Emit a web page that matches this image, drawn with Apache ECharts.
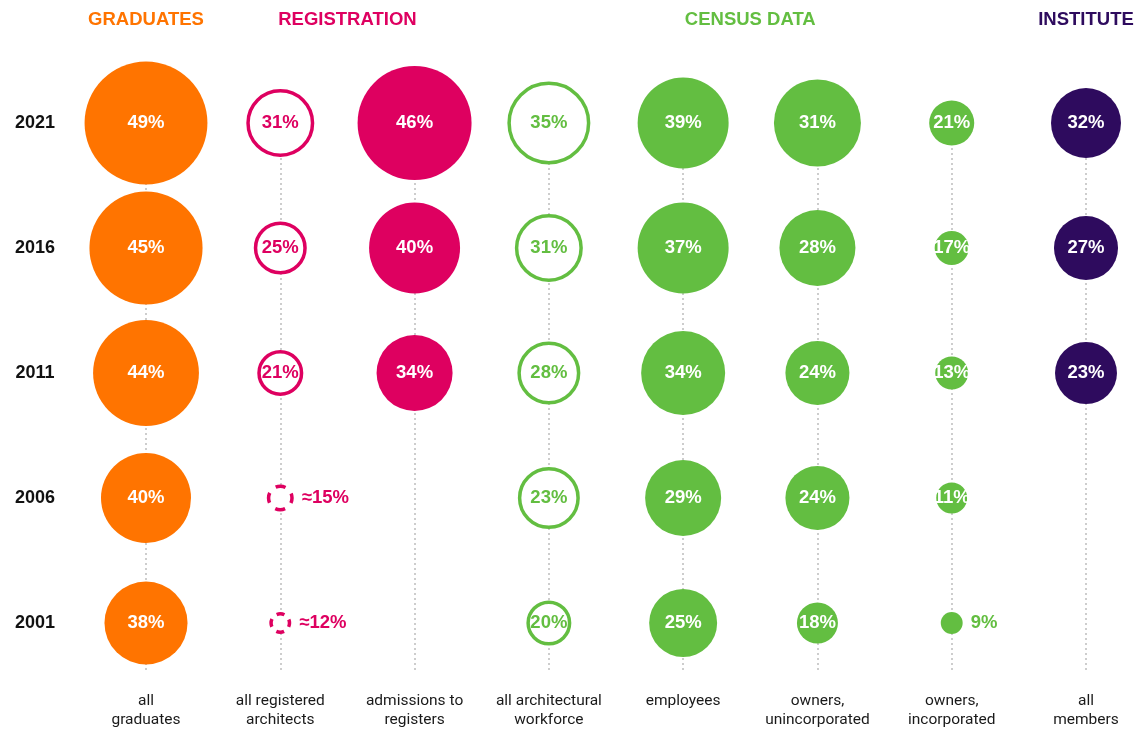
<!DOCTYPE html>
<html><head><meta charset="utf-8">
<script src="https://cdn.jsdelivr.net/npm/echarts@6/dist/echarts.min.js"></script>
<style>html,body{margin:0;padding:0;background:#fff}#c{width:1138px;height:734px}</style>
</head><body><div id="c"></div>
<script>
// ---- data ----
const years = [2021, 2016, 2011, 2006, 2001];
const columns = ['all\ngraduates', 'all registered\narchitects', 'admissions to\nregisters',
  'all architectural\nworkforce', 'employees', 'owners,\nunincorporated', 'owners,\nincorporated', 'all\nmembers'];
const groups = ['GRADUATES', 'REGISTRATION', 'CENSUS DATA', 'INSTITUTE'];
const columnGroup = [0, 1, 1, 2, 2, 2, 2, 3];

// percentage shown in each bubble (per year, 2021 → 2001)
const graduates   = [49, 45, 44, 40, 38];
const registered  = [31, 25, 21, 15, 12];
const registeredApprox = [false, false, false, true, true];
const admissions  = [46, 40, 34, null, null];
const workforce   = [35, 31, 28, 23, 20];
const employees   = [39, 37, 34, 29, 25];
const ownersUninc = [31, 28, 24, 24, 18];
const ownersInc   = [21, 17, 13, 11, 9];
const members     = [32, 27, 23, null, null];

// relative magnitude behind each bubble (area units)
const graduatesMag   = [151, 128, 112, 81, 69];
const registeredMag  = [41.6, 24.5, 18.1, 5.5, 3.4];
const admissionsMag  = [130, 82.8, 57.8, null, null];
const workforceMag   = [63.2, 41.6, 35.4, 34.2, 17.2];
const employeesMag   = [82.8, 82.8, 70.6, 57.8, 46.2];
const ownersUnincMag = [75.7, 57.8, 41, 41, 16.8];
const ownersIncMag   = [20.3, 11.6, 10.9, 9.6, 4.8];
const membersMag     = [49, 41, 38.4, null, null];

// ---- build ----
const colValues = [graduates, registered, admissions, workforce, employees, ownersUninc, ownersInc, members];
const colMags = [graduatesMag, registeredMag, admissionsMag, workforceMag, employeesMag, ownersUnincMag, ownersIncMag, membersMag];
const colApprox = [null, registeredApprox, null, null, null, null, null, null];
const hollowCols = [1, 3];
const groupColors = ['#ff7400', '#de0060', '#63be41', '#2e0b5e'];
const FONT = '"Liberation Sans", Arial, sans-serif';

const series = columns.map((c, ci) => {
  const color = groupColors[columnGroup[ci]];
  const hollow = hollowCols.includes(ci);
  const data = [];
  years.forEach((y, yi) => {
    const v = colValues[ci][yi];
    if (v == null) return;
    const m = colMags[ci][yi];
    const size = 10 * Math.sqrt(m);
    const approx = colApprox[ci] ? colApprox[ci][yi] : false;
    const outside = size < 30;
    let itemStyle;
    if (hollow) {
      itemStyle = { color: '#fff', borderColor: color, borderWidth: 3.5, opacity: 1 };
      if (approx) {
        const q = Math.PI * size / 4;
        const dash = q * 0.55, gap = q * 0.45;
        itemStyle.borderType = [dash, gap];
        itemStyle.borderDashOffset = dash / 2;
      }
    } else {
      itemStyle = { color: color, opacity: 1 };
    }
    data.push({
      value: [ci, y, v, m],
      symbolSize: size,
      itemStyle: itemStyle,
      label: {
        show: true,
        position: outside ? 'right' : 'inside',
        distance: 8,
        color: (hollow || outside) ? color : '#fff',
        formatter: (approx ? '≈' : '') + v + '%'
      }
    });
  });
  return {
    type: 'scatter', name: c, data: data, clip: false, symbol: 'circle',
    itemStyle: { opacity: 1 },
    label: { fontFamily: FONT, fontWeight: 'bold', fontSize: 18.5 },
    emphasis: { disabled: true }
  };
});

const chart = echarts.init(document.getElementById('c'), null, { renderer: 'canvas' });
const option = {
  animation: false,
  backgroundColor: '#fff',
  grid: { left: 146, right: 52, top: 123, bottom: 61 },
  xAxis: {
    type: 'category', data: columns, boundaryGap: false,
    axisLine: { show: false }, axisTick: { show: false },
    splitLine: { show: true, interval: 0, lineStyle: { color: '#bdbdbd', width: 1.5, type: [2, 3] } },
    axisLabel: { interval: 0, margin: 19, fontSize: 15.5, lineHeight: 19, color: '#1a1a1a', fontFamily: 'Roboto' }
  },
  yAxis: {
    type: 'value', min: 1999, max: 2021,
    axisLine: { show: false }, axisTick: { show: false }, splitLine: { show: false },
    axisLabel: { customValues: years, formatter: v => String(v), align: 'center', margin: 111, fontSize: 18, fontWeight: 'bold', color: '#111', fontFamily: FONT }
  },
  series: series
};
chart.setOption(option);

const headers = groups.map((g, gi) => {
  const cols = columnGroup.map((gg, i) => gg === gi ? i : -1).filter(i => i >= 0);
  const x0 = chart.convertToPixel({ xAxisIndex: 0 }, columns[cols[0]]);
  const x1 = chart.convertToPixel({ xAxisIndex: 0 }, columns[cols[cols.length - 1]]);
  return {
    type: 'text', x: (x0 + x1) / 2, y: 20,
    style: { text: g, fill: groupColors[gi], fontFamily: FONT, fontWeight: 'bold', fontSize: 18.5, align: 'center', verticalAlign: 'middle' }
  };
});
chart.setOption({ graphic: headers });
</script>
</body></html>
